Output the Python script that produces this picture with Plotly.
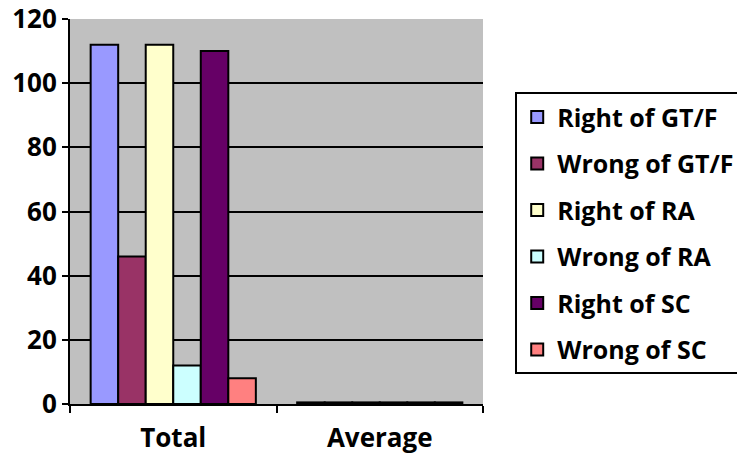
import plotly.graph_objects as go

categories = ["Total", "Average"]
series_names = ["Right of GT/F", "Wrong of GT/F", "Right of RA", "Wrong of RA", "Right of SC", "Wrong of SC"]
series_values = [
    [112, 0.5],
    [46, 0.5],
    [112, 0.5],
    [12, 0.5],
    [110, 0.5],
    [8, 0.5],
]
colors = ["#9999FF", "#993366", "#FFFFCC", "#CCFFFF", "#660066", "#FF8080"]
y_ticks = [0, 20, 40, 60, 80, 100, 120]

fig = go.Figure()
for i, (name, vals) in enumerate(zip(series_names, series_values)):
    fig.add_trace(go.Bar(
        x=categories, y=vals, name=name,
        marker=dict(color=colors[i], line=dict(color="black", width=2)),
        legendgroup=name,
    ))

FONT = "'Open Sans', sans-serif"
TICKFONT = dict(family=FONT, size=26, color="black", weight=700)
fig.update_layout(
    width=737, height=454,
    margin=dict(l=70, r=254, t=19, b=50, autoexpand=False),
    paper_bgcolor="white",
    plot_bgcolor="#C0C0C0",
    barmode="group",
    bargap=0.2,
    bargroupgap=0,
    font=dict(family=FONT, size=24, color="black", weight=700),
    showlegend=True,
    legend=dict(
        x=1.078, y=0.81, xanchor="left", yanchor="top",
        bgcolor="white", bordercolor="black", borderwidth=2,
        font=dict(family=FONT, size=25, color="black", weight=700),
        traceorder="grouped", tracegroupgap=11,
        itemwidth=30,
    ),
    xaxis=dict(
        showline=True, linecolor="black", linewidth=2,
        ticks="outside", tickson="boundaries", ticklen=7, tickwidth=2, tickcolor="black",
        showgrid=False, mirror=False, automargin=False,
        tickfont=TICKFONT, ticklabelstandoff=10,
    ),
    yaxis=dict(
        range=[0, 120], tickvals=y_ticks,
        showline=True, linecolor="black", linewidth=2,
        ticks="outside", ticklen=6, tickwidth=2, tickcolor="black",
        showgrid=True, gridcolor="black", gridwidth=2,
        zeroline=False, automargin=False,
        tickfont=TICKFONT,
    ),
)
fig.write_html("out.html")
